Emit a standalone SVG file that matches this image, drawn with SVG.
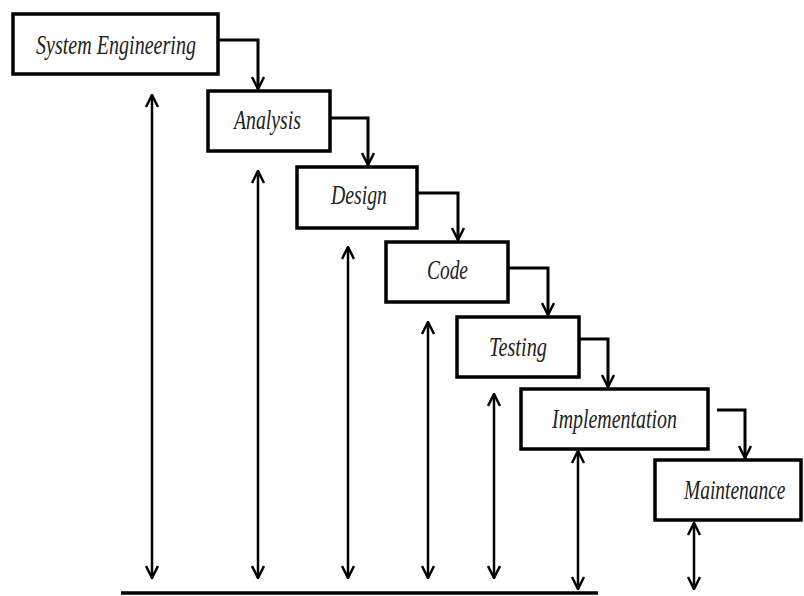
<svg xmlns="http://www.w3.org/2000/svg" width="804" height="596" viewBox="0 0 804 596">
<style>
.box{fill:#fff;stroke:#000;stroke-width:3.5}
.lbl{font-family:"Liberation Serif",serif;font-style:italic;font-size:27px;fill:#222}
.c{fill:none;stroke:#000;stroke-width:3}
.v{fill:none;stroke:#000;stroke-width:2.5}
</style>
<defs>
<marker id="ah2" viewBox="0 0 14 14" refX="13" refY="7" markerWidth="14" markerHeight="14" markerUnits="userSpaceOnUse" orient="auto-start-reverse">
<path d="M1,1 L13,7 L1,13" fill="none" stroke="#000" stroke-width="2.5"/>
</marker>
</defs>
<rect width="804" height="596" fill="#fff"/>
<g id="connectors">
<path class="c" d="M218,40 H258 V89" marker-end="url(#ah2)"/>
<path class="c" d="M330,118 H368 V165" marker-end="url(#ah2)"/>
<path class="c" d="M417,193 H458 V240" marker-end="url(#ah2)"/>
<path class="c" d="M508,268 H548 V315" marker-end="url(#ah2)"/>
<path class="c" d="M579,339 H608 V387" marker-end="url(#ah2)"/>
<path class="c" d="M717,410 H745 V458" marker-end="url(#ah2)"/>
<line class="v" x1="152" y1="95" x2="152" y2="578" marker-start="url(#ah2)" marker-end="url(#ah2)"/>
<line class="v" x1="258" y1="171" x2="258" y2="578" marker-start="url(#ah2)" marker-end="url(#ah2)"/>
<line class="v" x1="348" y1="247" x2="348" y2="578" marker-start="url(#ah2)" marker-end="url(#ah2)"/>
<line class="v" x1="428" y1="322" x2="428" y2="578" marker-start="url(#ah2)" marker-end="url(#ah2)"/>
<line class="v" x1="494" y1="394" x2="494" y2="578" marker-start="url(#ah2)" marker-end="url(#ah2)"/>
<line class="v" x1="578" y1="451" x2="578" y2="589" marker-start="url(#ah2)" marker-end="url(#ah2)"/>
<line class="v" x1="694" y1="523" x2="694" y2="589" marker-start="url(#ah2)" marker-end="url(#ah2)"/>
<line x1="121" y1="593" x2="598" y2="593" stroke="#000" stroke-width="3.5"/>
</g>
<g id="n1"><rect class="box" x="13" y="14" width="205" height="60"/><text class="lbl" x="36" y="54" textLength="160" lengthAdjust="spacingAndGlyphs">System Engineering</text></g>
<g id="n2"><rect class="box" x="208" y="91" width="122" height="60"/><text class="lbl" x="234" y="129" textLength="67" lengthAdjust="spacingAndGlyphs">Analysis</text></g>
<g id="n3"><rect class="box" x="297" y="167" width="120" height="61"/><text class="lbl" x="331" y="204" textLength="56" lengthAdjust="spacingAndGlyphs">Design</text></g>
<g id="n4"><rect class="box" x="386" y="242" width="122" height="60"/><text class="lbl" x="427" y="279" textLength="41" lengthAdjust="spacingAndGlyphs">Code</text></g>
<g id="n5"><rect class="box" x="457" y="317" width="122" height="60"/><text class="lbl" x="489" y="356" textLength="58" lengthAdjust="spacingAndGlyphs">Testing</text></g>
<g id="n6"><rect class="box" x="521" y="389" width="187" height="60"/><text class="lbl" x="552" y="428" textLength="125" lengthAdjust="spacingAndGlyphs">Implementation</text></g>
<g id="n7"><rect class="box" x="655" y="460" width="146" height="60"/><text class="lbl" transform="translate(684,499) scale(0.72,1)" x="0" y="0">Maintenance</text></g>
</svg>
